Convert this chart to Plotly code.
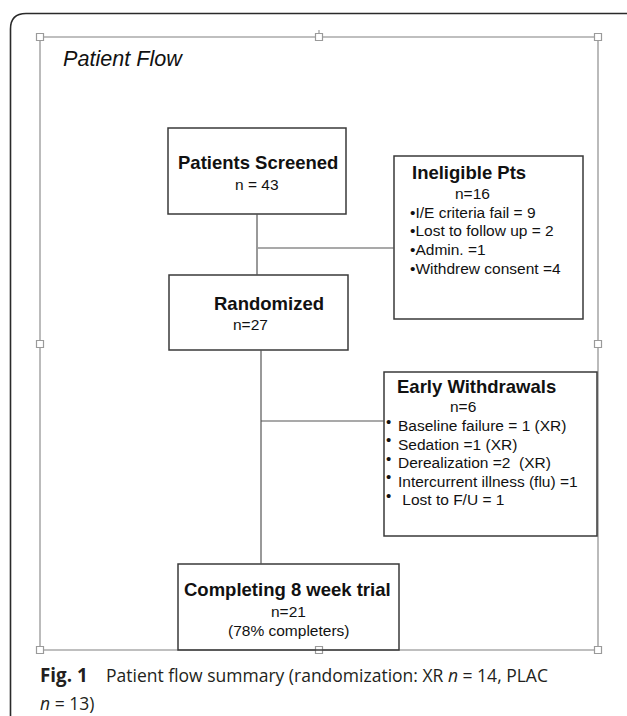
import plotly.graph_objects as go

# ---------------- data (texts / counts) ----------------
panel_title = "Patient Flow"
screened_label = "Patients Screened"
screened_n = "n = 43"
ineligible_label = "Ineligible Pts"
ineligible_n = "n=16"
ineligible_reasons = ["I/E criteria fail = 9", "Lost to follow up = 2", "Admin. =1", "Withdrew consent =4"]
randomized_label = "Randomized"
randomized_n = "n=27"
withdrawal_label = "Early Withdrawals"
withdrawal_n = "n=6"
withdrawal_reasons = ["Baseline failure = 1 (XR)", "Sedation =1 (XR)", "Derealization =2\u00a0\u00a0(XR)",
                      "Intercurrent illness (flu) =1", "\u00a0Lost to F/U = 1"]
completing_label = "Completing 8 week trial"
completing_n = "n=21"
completing_pct = "(78% completers)"
caption_bold = "Fig. 1"
caption_line1 = "Patient flow summary (randomization: XR <i>n</i> = 14, PLAC"
caption_line2 = "<i>n</i> = 13)"

# ---------------- layout geometry ----------------
W, H = 627, 716
BOX_FONT = "Liberation Sans, Arial, sans-serif"
CAP_FONT = "Open Sans, sans-serif"
TXT = "#111111"

fig = go.Figure()
fig.add_trace(go.Scatter(x=[0, W], y=[0, H], mode="markers", marker=dict(opacity=0), hoverinfo="skip", showlegend=False))

shapes = []
# outer rounded frame
shapes.append(dict(type="path", xref="x", yref="y",
                   path="M 10.5,760 L 10.5,29 Q 10.5,13.5 26,13.5 L 700,13.5",
                   line=dict(color="#2a2a2a", width=1.6)))
# inner grey selection frame
shapes.append(dict(type="rect", xref="x", yref="y", x0=40, y0=37, x1=598, y1=650,
                   line=dict(color="#ababab", width=1.6)))
# rotation tick
shapes.append(dict(type="line", xref="x", yref="y", x0=319, y0=30, x1=319, y1=35,
                   line=dict(color="#9a9a9a", width=1.2)))
# handles
for hx, hy in [(40, 37), (319, 37), (598, 37), (40, 344), (598, 344), (40, 650), (319, 650), (598, 650)]:
    shapes.append(dict(type="rect", xref="x", yref="y", x0=hx - 3.5, y0=hy - 3.5, x1=hx + 3.5, y1=hy + 3.5,
                       line=dict(color="#9a9a9a", width=1.2), fillcolor="white"))

# boxes
boxes = [(168, 128, 346, 214), (394, 156, 583, 319), (169, 275, 348, 350),
         (384, 372, 597, 536), (178, 564, 399, 650)]
for x0, y0, x1, y1 in boxes:
    shapes.append(dict(type="rect", xref="x", yref="y", x0=x0, y0=y0, x1=x1, y1=y1,
                       line=dict(color="#3a3a3a", width=1.5), fillcolor="rgba(0,0,0,0)"))

# connectors
for x0, y0, x1, y1 in [(257, 214, 257, 275), (258, 248, 394, 248), (261, 350, 261, 564), (261, 421, 384, 421)]:
    shapes.append(dict(type="line", xref="x", yref="y", x0=x0, y0=y0, x1=x1, y1=y1,
                       line=dict(color="#555555", width=1.2)))

ann = []


def t(x, y, text, size, anchor="left", family=BOX_FONT, color=TXT):
    ann.append(dict(x=x, y=y, xref="x", yref="y", text=text, showarrow=False,
                    xanchor=anchor, yanchor="middle",
                    font=dict(family=family, size=size, color=color)))


t(61, 58, "<i>" + panel_title + "</i>", 21.6)

t(258, 162.5, "<b>" + screened_label + "</b>", 18.5, "center")
t(256.5, 184, screened_n, 15.5, "center")

t(410, 172.5, "<b>" + ineligible_label + "</b>", 18.5)
t(453, 193, ineligible_n, 15.5)
for i, r in enumerate(ineligible_reasons):
    t(408, 212 + i * 18.7, "\u2022" + r, 15.5)

t(212, 303.5, "<b>" + randomized_label + "</b>", 18.5)
t(231, 324, randomized_n, 15.5)

t(395, 386.5, "<b>" + withdrawal_label + "</b>", 18.5)
t(448, 406, withdrawal_n, 15.5)
for i, r in enumerate(withdrawal_reasons):
    yy = 425.5 + i * 18.6
    t(384, yy - 4.5, "\u2022", 15)
    t(396, yy, r, 15.5)

t(287, 589.5, "<b>" + completing_label + "</b>", 18.5, "center")
t(288, 611, completing_n, 15.5, "center")
t(288, 630, completing_pct, 15.5, "center")

t(38, 675, "<b>" + caption_bold + "</b>", 18.8, family=CAP_FONT, color="#231f20")
t(104, 675, caption_line1, 17.5, family=CAP_FONT, color="#231f20")
t(38, 703, caption_line2, 17.5, family=CAP_FONT, color="#231f20")

fig.update_layout(width=W, height=H, margin=dict(l=0, r=0, t=0, b=0),
                  paper_bgcolor="white", plot_bgcolor="white",
                  xaxis=dict(range=[0, W], visible=False, fixedrange=True),
                  yaxis=dict(range=[H, 0], visible=False, fixedrange=True),
                  shapes=shapes, annotations=ann, showlegend=False)

fig.write_html("out.html", config={"displayModeBar": False},
               post_script="document.body.style.margin='0px';document.body.style.overflow='hidden';")
